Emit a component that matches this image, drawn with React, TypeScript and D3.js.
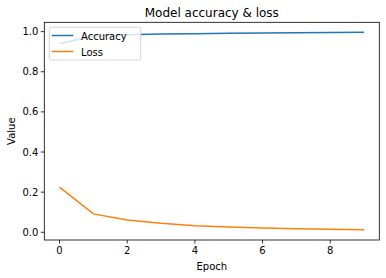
import React from "react";
import * as d3 from "d3";

const epochs = [0, 1, 2, 3, 4, 5, 6, 7, 8, 9];
const accuracy = [0.94, 0.978, 0.985, 0.988, 0.99, 0.992, 0.993, 0.995, 0.996, 0.997];
const loss = [0.225, 0.0915, 0.0615, 0.045, 0.033, 0.026, 0.021, 0.017, 0.015, 0.013];
const xTicks = [0, 2, 4, 6, 8];
const yTicks = [0, 0.2, 0.4, 0.6, 0.8, 1.0];

export default function App() {
  const W = 386, H = 278;
  const L = 44.3, R = 379.3, T = 22.3, B = 240;
  const x = d3.scaleLinear().domain([-0.45, 9.45]).range([L, R]);
  const y = d3.scaleLinear().domain([-0.0385, 1.0465]).range([B, T]);
  const line = d3.line<number>().x((_, i) => x(epochs[i])).y((d) => y(d));
  const font = "DejaVu Sans, sans-serif";
  return (
    <svg width={W} height={H} style={{ position: "absolute", left: 0, top: 0 }} fontFamily={font}>
      <rect width={W} height={H} fill="#fff" />
      <text x={(L + R) / 2} y={17} textAnchor="middle" fontSize={12}>Model accuracy &amp; loss</text>
      <path d={line(accuracy) || ""} fill="none" stroke="#1f77b4" strokeWidth={1.5} />
      <path d={line(loss) || ""} fill="none" stroke="#ff7f0e" strokeWidth={1.5} />
      <rect x={L} y={T} width={R - L} height={B - T} fill="none" stroke="#000" strokeWidth={0.8} />
      {xTicks.map((t) => (
        <g key={"x" + t}>
          <line x1={x(t)} x2={x(t)} y1={B} y2={B + 3.5} stroke="#000" strokeWidth={0.8} />
          <text x={x(t)} y={B + 14} textAnchor="middle" fontSize={10}>{t}</text>
        </g>
      ))}
      {yTicks.map((t) => (
        <g key={"y" + t}>
          <line x1={L - 3.5} x2={L} y1={y(t)} y2={y(t)} stroke="#000" strokeWidth={0.8} />
          <text x={L - 6} y={y(t) + 3.6} textAnchor="end" fontSize={10}>{t.toFixed(1)}</text>
        </g>
      ))}
      <text x={(L + R) / 2} y={270} textAnchor="middle" fontSize={10}>Epoch</text>
      <text transform={`translate(15,${(T + B) / 2}) rotate(-90)`} textAnchor="middle" fontSize={10}>Value</text>
      <g>
        <rect x={49.3} y={27.3} width={91.4} height={32.7} rx={2} fill="#fff" fillOpacity={0.8} stroke="#cccccc" strokeWidth={0.8} />
        <line x1={51.7} x2={73.3} y1={35.5} y2={35.5} stroke="#1f77b4" strokeWidth={1.5} />
        <text x={81} y={39.5} fontSize={10}>Accuracy</text>
        <line x1={51.7} x2={73.3} y1={51.5} y2={51.5} stroke="#ff7f0e" strokeWidth={1.5} />
        <text x={81} y={55.5} fontSize={10}>Loss</text>
      </g>
    </svg>
  );
}
